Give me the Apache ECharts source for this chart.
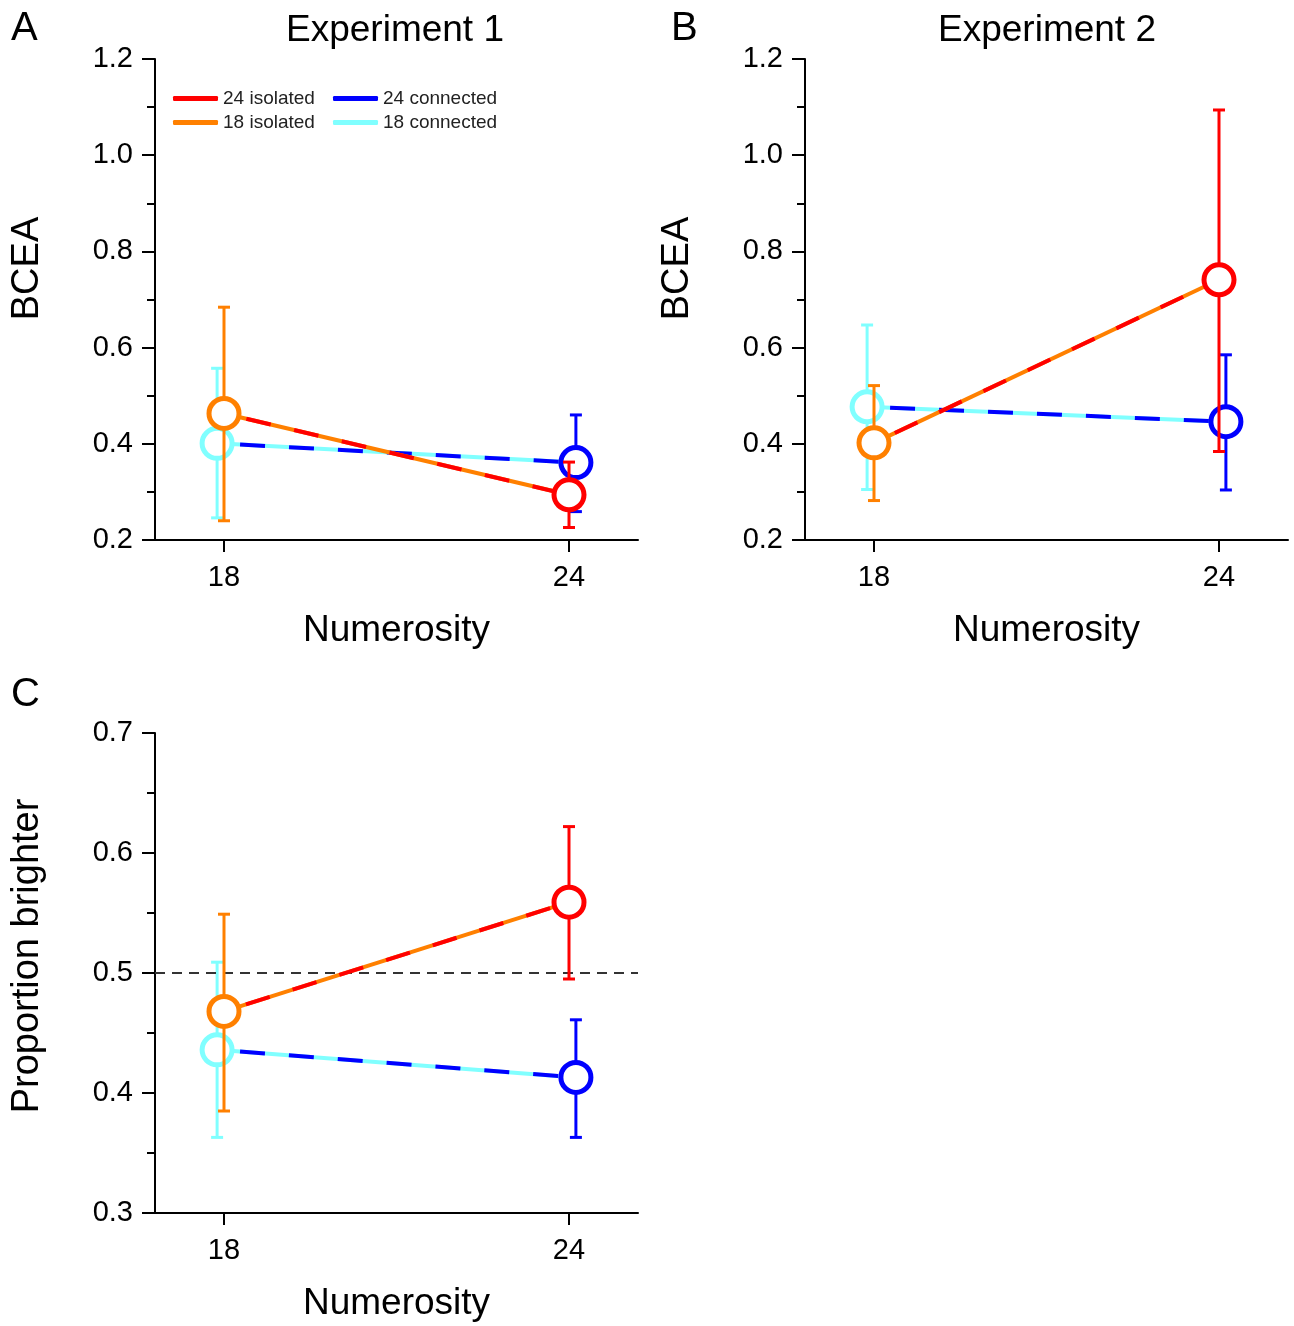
<!DOCTYPE html>
<html>
<head>
<meta charset="utf-8">
<title>BCEA and brightness by numerosity</title>
<script src="https://cdn.jsdelivr.net/npm/echarts@6/dist/echarts.min.js"></script>
<style>
  html, body { margin: 0; padding: 0; background: #fff; }
  #chart { width: 1294px; height: 1326px; }
</style>
</head>
<body>
<div id="chart"></div>
<script>
  const numerosity = [18, 24];

  // Panel A - Experiment 1, BCEA
  const exp1Isolated = [0.463, 0.294];
  const exp1IsolatedLow = [0.240, 0.226];
  const exp1IsolatedHigh = [0.684, 0.362];
  const exp1Connected = [0.401, 0.361];
  const exp1ConnectedLow = [0.246, 0.259];
  const exp1ConnectedHigh = [0.557, 0.460];

  // Panel B - Experiment 2, BCEA
  const exp2Isolated = [0.402, 0.741];
  const exp2IsolatedLow = [0.282, 0.384];
  const exp2IsolatedHigh = [0.521, 1.094];
  const exp2Connected = [0.477, 0.446];
  const exp2ConnectedLow = [0.305, 0.304];
  const exp2ConnectedHigh = [0.647, 0.585];

  // Panel C - proportion brighter
  const brightIsolated = [0.468, 0.559];
  const brightIsolatedLow = [0.385, 0.495];
  const brightIsolatedHigh = [0.549, 0.622];
  const brightConnected = [0.436, 0.413];
  const brightConnectedLow = [0.363, 0.363];
  const brightConnectedHigh = [0.509, 0.461];

  const isolatedColors = ['#ff8000', '#ff0000'];
  const connectedColors = ['#80ffff', '#0000ff'];
  const font = 'Liberation Sans, Arial, sans-serif';
  const shift = 0.12; // connected points are nudged sideways

  const chart = echarts.init(document.getElementById('chart'));

  function xAxisFor(grid) {
    return {
      type: 'value', gridIndex: grid, min: 16.8, max: 25.2,
      name: 'Numerosity', nameLocation: 'middle', nameGap: 72,
      nameTextStyle: { fontFamily: font, fontSize: 37, color: '#000' },
      axisLine: { lineStyle: { color: '#000', width: 2 } },
      axisTick: { customValues: numerosity, length: 12, lineStyle: { color: '#000', width: 2 } },
      axisLabel: { customValues: numerosity, margin: 23, fontFamily: font, fontSize: 29, color: '#000' },
      splitLine: { show: false }
    };
  }

  function yAxisFor(grid, name, min, max, step, lift) {
    return {
      type: 'value', gridIndex: grid, min: min, max: max, interval: step,
      name: name, nameLocation: 'middle', nameGap: 108, nameRotate: 90,
      nameTextStyle: { fontFamily: font, fontSize: 38, color: '#000', padding: [0, 0, 0, lift * 2] },
      axisLine: { show: true, lineStyle: { color: '#000', width: 2 } },
      axisTick: { show: true, length: 13, lineStyle: { color: '#000', width: 2 } },
      minorTick: { show: true, splitNumber: 2, length: 8, lineStyle: { color: '#000', width: 2 } },
      axisLabel: { margin: 22, fontFamily: font, fontSize: 29, color: '#000',
        formatter: v => v.toFixed(1) },
      splitLine: { show: false }
    };
  }

  function errorBars(grid, xs, low, high, colors, z) {
    return {
      type: 'custom', xAxisIndex: grid, yAxisIndex: grid, silent: true, z: z,
      data: xs.map((x, i) => [x, low[i], high[i]]),
      encode: { x: 0, y: [1, 2] },
      renderItem: function (params, api) {
        const top = api.coord([api.value(0), api.value(2)]);
        const bot = api.coord([api.value(0), api.value(1)]);
        const style = { stroke: colors[params.dataIndex], lineWidth: 3 };
        const cap = 6;
        return {
          type: 'group',
          children: [
            { type: 'line', shape: { x1: top[0], y1: top[1], x2: bot[0], y2: bot[1] }, style: style },
            { type: 'line', shape: { x1: top[0] - cap, y1: top[1], x2: top[0] + cap, y2: top[1] }, style: style },
            { type: 'line', shape: { x1: bot[0] - cap, y1: bot[1], x2: bot[0] + cap, y2: bot[1] }, style: style }
          ]
        };
      }
    };
  }

  function lineTwoTone(grid, xs, ys, base, dash, z) {
    const pts = xs.map((x, i) => [x, ys[i]]);
    return [
      { type: 'line', xAxisIndex: grid, yAxisIndex: grid, data: pts, symbol: 'none', silent: true, z: z,
        lineStyle: { color: base, width: 4 } },
      { type: 'line', xAxisIndex: grid, yAxisIndex: grid, data: pts, symbol: 'none', silent: true, z: z,
        lineStyle: { color: dash, width: 4, type: [25, 24], dashOffset: 26 } }
    ];
  }

  function circles(grid, xs, ys, colors, label, z) {
    return xs.map((x, i) => ({
      type: 'scatter', name: numerosity[i] + ' ' + label, z: z,
      xAxisIndex: grid, yAxisIndex: grid,
      data: [[x, ys[i]]], symbol: 'circle', symbolSize: 30,
      itemStyle: { color: '#ffffff', borderColor: colors[i], borderWidth: 5, opacity: 1 }
    }));
  }

  function panel(grid, iso, isoLow, isoHigh, con, conLow, conHigh) {
    const conX = numerosity.map((n, i) => i === 0 ? n - shift : n + shift);
    return [].concat(
      lineTwoTone(grid, conX, con, connectedColors[0], connectedColors[1], 2),
      errorBars(grid, conX, conLow, conHigh, connectedColors, 3),
      circles(grid, conX, con, connectedColors, 'connected', 4),
      lineTwoTone(grid, numerosity, iso, isolatedColors[0], isolatedColors[1], 5),
      errorBars(grid, numerosity, isoLow, isoHigh, isolatedColors, 6),
      circles(grid, numerosity, iso, isolatedColors, 'isolated', 7)
    );
  }

  const seriesA = panel(0, exp1Isolated, exp1IsolatedLow, exp1IsolatedHigh,
    exp1Connected, exp1ConnectedLow, exp1ConnectedHigh);
  const seriesB = panel(1, exp2Isolated, exp2IsolatedLow, exp2IsolatedHigh,
    exp2Connected, exp2ConnectedLow, exp2ConnectedHigh);
  const seriesC = panel(2, brightIsolated, brightIsolatedLow, brightIsolatedHigh,
    brightConnected, brightConnectedLow, brightConnectedHigh);

  // chance line at 0.5
  seriesC.unshift({
    type: 'line', xAxisIndex: 2, yAxisIndex: 2, data: [], silent: true, z: 1,
    markLine: {
      silent: true, symbol: 'none', label: { show: false },
      lineStyle: { color: '#333', width: 2, type: [10, 7] },
      data: [{ yAxis: 0.5 }]
    }
  });

  const legendText = { fontFamily: font, fontSize: 19, color: '#222' };
  const legendItem = (name, color) => ({ name: name, icon: 'roundRect', itemStyle: { color: color, borderWidth: 0 } });
  const letterStyle = { fontFamily: font, fontSize: 40, fontWeight: 'normal', color: '#000' };
  const titleStyle = { fontFamily: font, fontSize: 37, fontWeight: 'normal', color: '#000' };

  const option = {
    animation: false,
    title: [
      { text: 'A', left: 6, top: 4, textStyle: letterStyle },
      { text: 'B', left: 666, top: 4, textStyle: letterStyle },
      { text: 'C', left: 6, top: 670, textStyle: letterStyle },
      { text: 'Experiment 1', left: 281, top: 7, textStyle: titleStyle },
      { text: 'Experiment 2', left: 933, top: 7, textStyle: titleStyle }
    ],
    legend: [
      { left: 168, top: 84, orient: 'vertical', itemWidth: 45, itemHeight: 5, itemGap: 5,
        textStyle: legendText, selectedMode: false,
        data: [legendItem('24 isolated', '#ff0000'), legendItem('18 isolated', '#ff8000')] },
      { left: 328, top: 84, orient: 'vertical', itemWidth: 45, itemHeight: 5, itemGap: 5,
        textStyle: legendText, selectedMode: false,
        data: [legendItem('24 connected', '#0000ff'), legendItem('18 connected', '#80ffff')] }
    ],
    grid: [
      { left: 155, top: 59, width: 483, height: 481 },
      { left: 805, top: 59, width: 483, height: 481 },
      { left: 155, top: 733, width: 483, height: 480 }
    ],
    xAxis: [xAxisFor(0), xAxisFor(1), xAxisFor(2)],
    yAxis: [
      yAxisFor(0, 'BCEA', 0.2, 1.2, 0.2, 31),
      yAxisFor(1, 'BCEA', 0.2, 1.2, 0.2, 31),
      yAxisFor(2, 'Proportion brighter', 0.3, 0.7, 0.1, 17)
    ],
    series: [].concat(seriesA, seriesB, seriesC)
  };

  chart.setOption(option);

  window.addEventListener('resize', function () {
    chart.resize();
  });
</script>
</body>
</html>
